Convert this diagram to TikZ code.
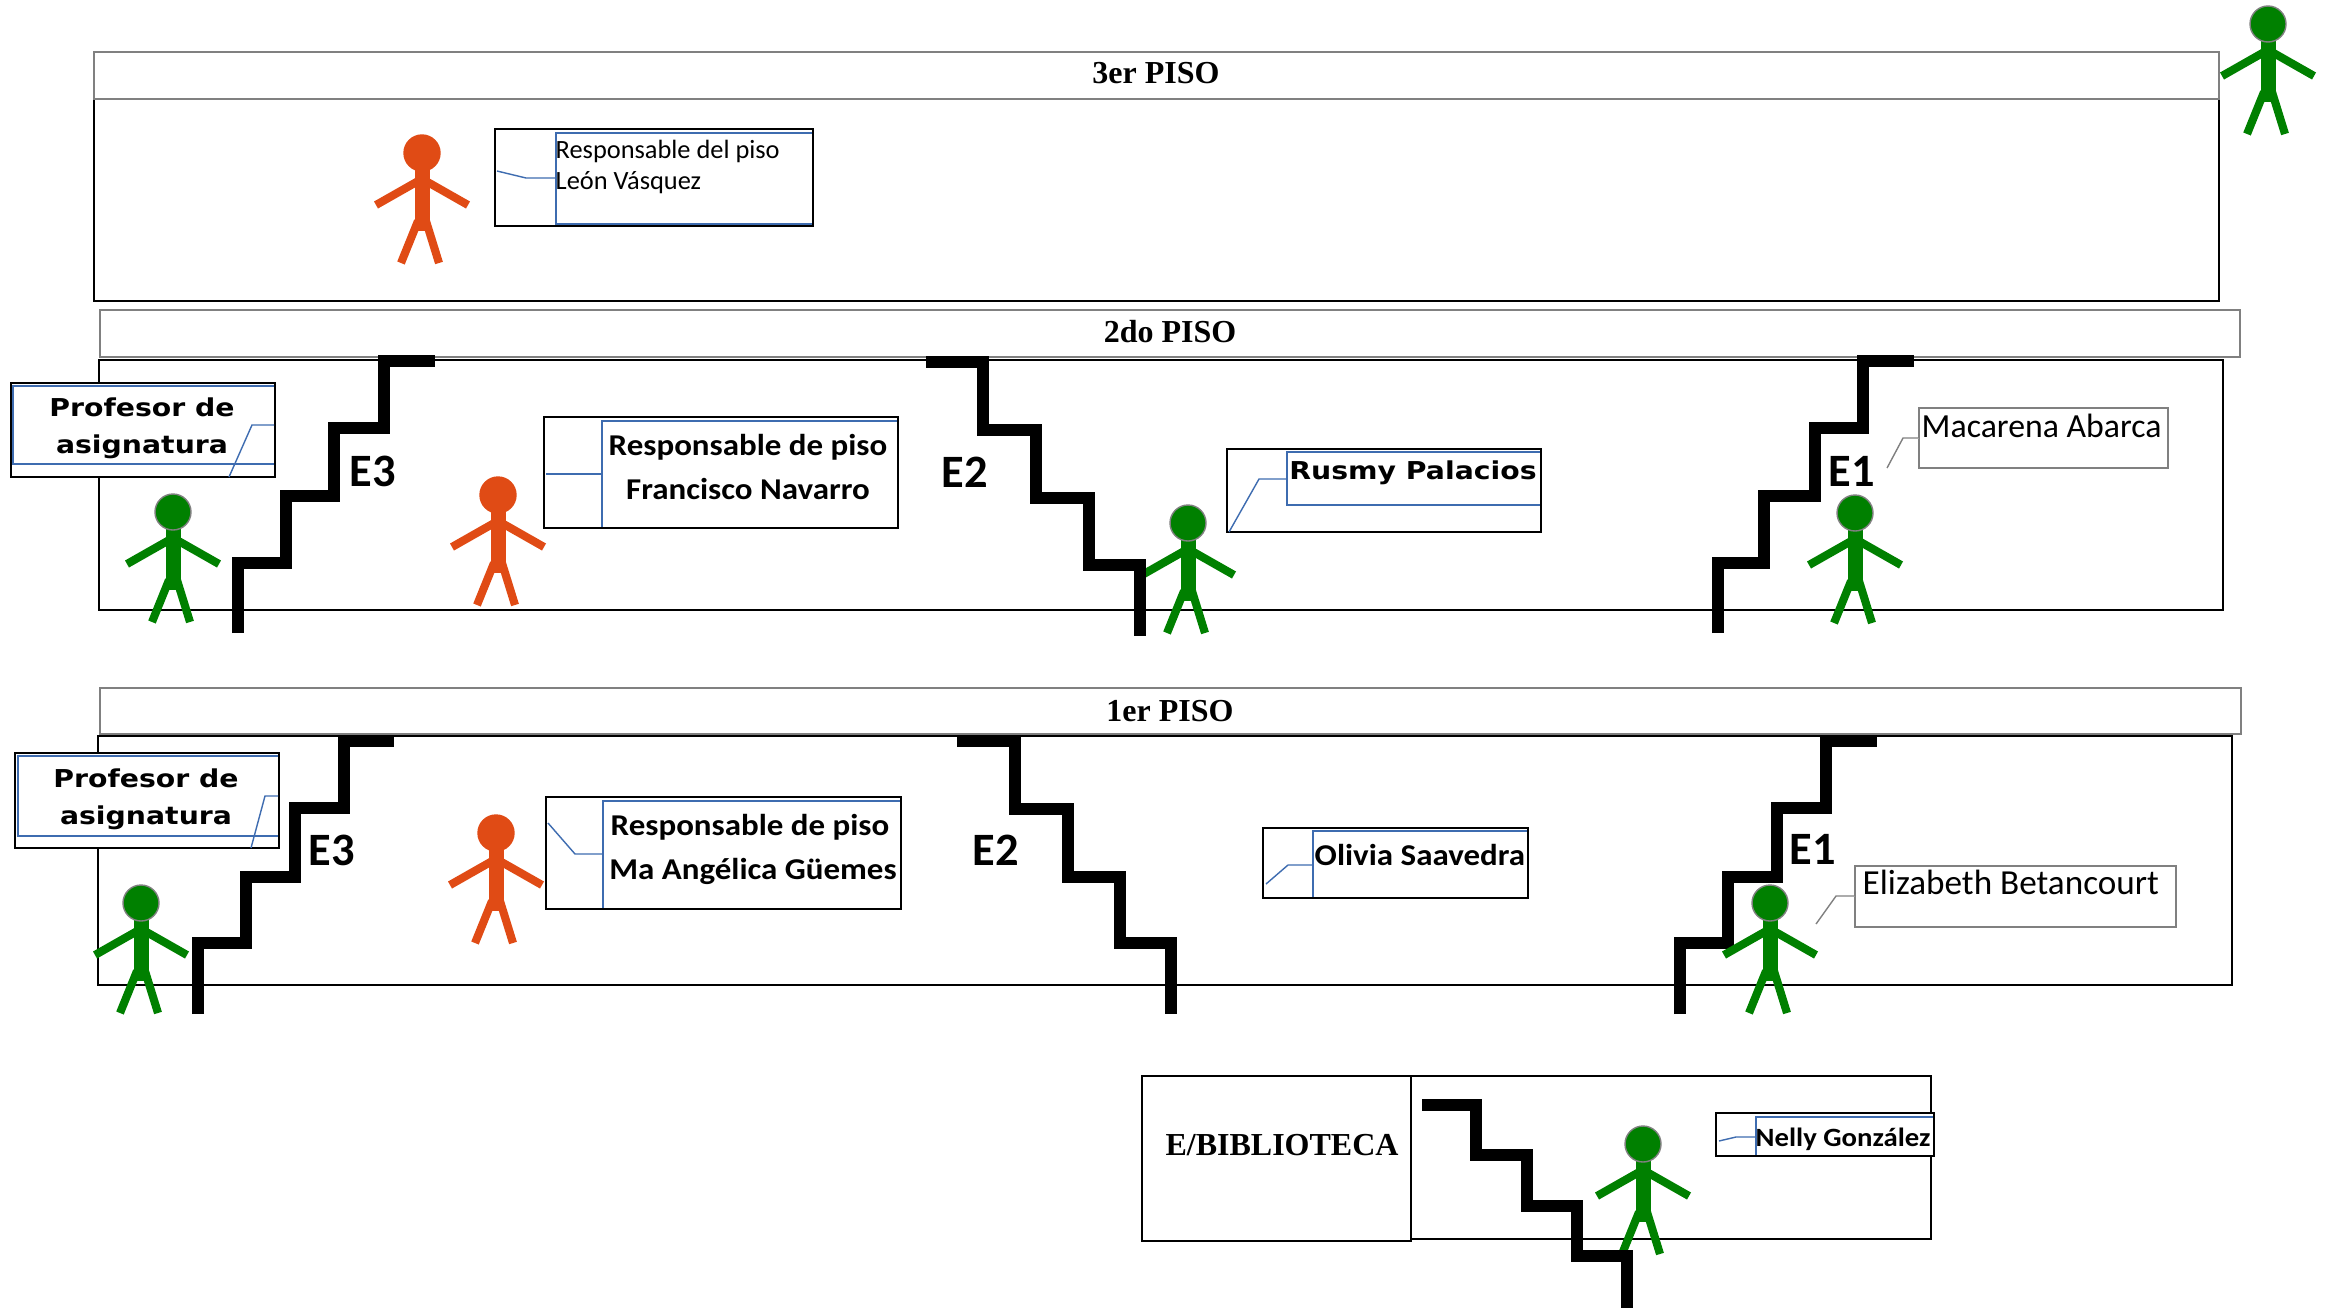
\documentclass[tikz,border=0pt]{standalone}
\usepackage{fontspec}
\usepackage{tikz}
\newfontfamily\headfont{Liberation Serif}
\newfontfamily\callfont{Carlito}
\newfontfamily\namefont[FakeStretch=1.09]{Carlito}
\newfontfamily\widefont[FakeStretch=1.15]{DejaVu Sans}
\definecolor{mangreen}{RGB}{0,128,0}
\definecolor{manorange}{RGB}{224,75,21}
\definecolor{callblue}{RGB}{62,108,176}
\definecolor{headgray}{RGB}{128,128,128}
\tikzset{
  floorhead/.style={draw=headgray,line width=0.7pt},
  floorbody/.style={draw=black,line width=0.7pt},
  stairline/.style={line width=3.4pt,miter limit=10},
  callbox/.style={draw=black,fill=white,line width=0.7pt},
  callblue/.style={draw=callblue,line width=0.4pt},
  callgray/.style={draw=headgray,fill=white,line width=0.4pt},
  pisotext/.style={anchor=base,inner sep=0pt,font=\headfont\bfseries\fontsize{9.1}{11}\selectfont},
  stairtext/.style={anchor=base,inner sep=0pt,font=\callfont\bfseries\fontsize{13.2}{15}\selectfont},
  widetext/.style={anchor=base,inner sep=0pt,font=\widefont\bfseries\fontsize{7}{9}\selectfont},
  namebold/.style={anchor=base west,inner sep=0pt,font=\namefont\bfseries\fontsize{8.6}{10}\selectfont},
  nameplain/.style={anchor=base west,inner sep=0pt,font=\callfont\fontsize{9.6}{11}\selectfont},
  pics/person/.style 2 args={code={
    \draw[#1,line width=2.3pt] (-2,27) -- (-46,52);
    \draw[#1,line width=2.3pt] (2,27) -- (46,52);
    \draw[#1,line width=2.3pt] (-4,68) -- (-21,110);
    \draw[#1,line width=2.3pt] (4,68) -- (17,110);
    \fill[#1] (-7.5,14) rectangle (7.5,78);
    \draw[#2,fill=#1,line width=0.4pt] (0,0) circle [radius=18];
  }},
}
\begin{document}
\begin{tikzpicture}[x=0.01cm,y=-0.01cm]
\useasboundingbox (0,0) rectangle (2337,1309);
% floors
\draw[floorbody] (94,99) rectangle (2219,301);
\draw[floorhead] (94,52) rectangle (2219,99);
\draw[floorhead] (100,310) rectangle (2240,357);
\draw[floorbody] (99,360) rectangle (2223,610);
\draw[floorhead] (100,688) rectangle (2241,734);
\draw[floorbody] (98,736) rectangle (2232,985);
\draw[floorbody] (1142,1076) rectangle (1411,1241);
\draw[floorbody] (1411,1076) rectangle (1931,1239);
\node[pisotext] (piso3) at (1156,83) {3er PISO};
\node[pisotext] (piso2) at (1170,342) {2do PISO};
\node[pisotext] (piso1) at (1170,721) {1er PISO};
\node[pisotext] (biblio) at (1282,1155) {E/BIBLIOTECA};
% people under the stairs
\pic at (1188,523) {person={mangreen}{headgray}};
\pic at (1643,1144) {person={mangreen}{headgray}};
% stairs
\draw[stairline] (238,633) -- (238,563) -- (286,563) -- (286,496) -- (334,496) -- (334,428) -- (384,428) -- (384,361) -- (435,361);
\draw[stairline] (926,362) -- (983,362) -- (983,430) -- (1036,430) -- (1036,498) -- (1089,498) -- (1089,565) -- (1140,565) -- (1140,636);
\draw[stairline] (1718,633) -- (1718,563) -- (1764,563) -- (1764,496) -- (1815,496) -- (1815,428) -- (1863,428) -- (1863,361) -- (1914,361);
\draw[stairline] (198,1014) -- (198,943) -- (246,943) -- (246,877) -- (295,877) -- (295,808) -- (344,808) -- (344,741) -- (394,741);
\draw[stairline] (957,741) -- (1015,741) -- (1015,809) -- (1068,809) -- (1068,877) -- (1120,877) -- (1120,943) -- (1171,943) -- (1171,1014);
\draw[stairline] (1680,1014) -- (1680,943) -- (1728,943) -- (1728,877) -- (1777,877) -- (1777,808) -- (1826,808) -- (1826,741) -- (1877,741);
\draw[stairline] (1422,1105) -- (1476,1105) -- (1476,1155) -- (1527,1155) -- (1527,1206) -- (1577,1206) -- (1577,1256) -- (1627,1256) -- (1627,1308);
\node[stairtext] (e3b) at (373,486) {E3};
\node[stairtext] (e2b) at (965,487) {E2};
\node[stairtext] (e1b) at (1852,486) {E1};
\node[stairtext] (e3a) at (332,865) {E3};
\node[stairtext] (e2a) at (996,865) {E2};
\node[stairtext] (e1a) at (1813,864) {E1};
% people
\pic at (2268,24) {person={mangreen}{headgray}};
\pic at (422,153) {person={manorange}{manorange}};
\pic at (173,512) {person={mangreen}{headgray}};
\pic at (498,495) {person={manorange}{manorange}};
\pic at (1855,513) {person={mangreen}{headgray}};
\pic at (141,903) {person={mangreen}{headgray}};
\pic at (496,833) {person={manorange}{manorange}};
\pic at (1770,903) {person={mangreen}{headgray}};
% third floor box
\draw[callbox] (495,129) rectangle (813,226);
\draw[callblue] (812,133) -- (556,133) -- (556,224) -- (812,224);
\draw[callblue] (497,171) -- (526,178) -- (556,178);
\node[nameplain,font=\callfont\fontsize{7.5}{9}\selectfont] (leon1) at (555,158) {Responsable del piso};
\node[nameplain,font=\callfont\fontsize{7.5}{9}\selectfont] (leon2) at (555,189) {León Vásquez};
% second floor boxes
\draw[callbox] (11,383) rectangle (275,477);
\draw[callblue] (274,386) -- (13,386) -- (13,464) -- (274,464);
\draw[callblue] (229,477) -- (252,425) -- (274,425);
\node[widetext] (prof2a) at (142,416) {Profesor de};
\node[widetext] (prof2b) at (142,453) {asignatura};
\draw[callbox] (544,417) rectangle (898,528);
\draw[callblue] (897,421) -- (602,421) -- (602,527);
\draw[callblue] (546,474) -- (602,474);
\node[namebold,anchor=base] (navarro1) at (748,455) {Responsable de piso};
\node[namebold,anchor=base] (navarro2) at (748,499) {Francisco Navarro};
\draw[callbox] (1227,449) rectangle (1541,532);
\draw[callblue] (1540,452) -- (1287,452) -- (1287,505) -- (1540,505);
\draw[callblue] (1229,532) -- (1259,479) -- (1287,479);
\node[widetext] (rusmy) at (1413,479) {Rusmy Palacios};
\draw[callgray] (1919,408) rectangle (2168,468);
\draw[callgray] (1887,468) -- (1903,438) -- (1919,438);
\node[nameplain] (macarena) at (1921,437) {Macarena Abarca};
% first floor boxes
\draw[callbox] (15,753) rectangle (279,848);
\draw[callblue] (278,756) -- (18,756) -- (18,836) -- (278,836);
\draw[callblue] (251,848) -- (265,796) -- (278,796);
\node[widetext] (prof1a) at (146,787) {Profesor de};
\node[widetext] (prof1b) at (146,824) {asignatura};
\draw[callbox] (546,797) rectangle (901,909);
\draw[callblue] (900,801) -- (603,801) -- (603,908);
\draw[callblue] (548,823) -- (575,854) -- (603,854);
\node[namebold,anchor=base] (guemes1) at (750,835) {Responsable de piso};
\node[namebold,anchor=base] (guemes2) at (753,879) {Ma Angélica Güemes};
\draw[callbox] (1263,828) rectangle (1528,898);
\draw[callblue] (1527,831) -- (1313,831) -- (1313,897);
\draw[callblue] (1266,884) -- (1288,865) -- (1313,865);
\node[namebold] (olivia) at (1314,865) {Olivia Saavedra};
\draw[callgray] (1855,866) rectangle (2176,927);
\draw[callgray] (1816,924) -- (1836,896) -- (1855,896);
\node[nameplain,font=\callfont\fontsize{10}{12}\selectfont] (elizabeth) at (1862,894) {Elizabeth Betancourt};
% library box
\draw[callbox] (1716,1113) rectangle (1934,1156);
\draw[callblue] (1933,1117) -- (1756,1117) -- (1756,1155);
\draw[callblue] (1719,1141) -- (1736,1137) -- (1756,1137);
\node[namebold,font=\namefont\bfseries\fontsize{7.5}{9}\selectfont] (nelly) at (1755,1146) {Nelly González};
\end{tikzpicture}
\end{document}
